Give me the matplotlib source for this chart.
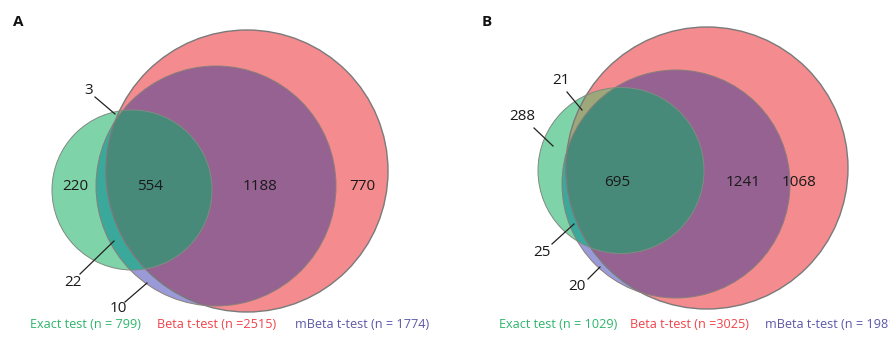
import numpy as np
import matplotlib
matplotlib.use("Agg")
import matplotlib.pyplot as plt
from matplotlib.patches import Circle, Polygon

plt.rcParams['font.family'] = ['Open Sans', 'DejaVu Sans']

# ---- data ----
panels = ["A", "B"]
tests = ["Exact test", "Beta t-test", "mBeta t-test"]
totals_A = [799, 2515, 1774]
totals_B = [1029, 3025, 1981]
# region counts
regions_A = {"exact_only": 220, "triple": 554, "beta_mbeta": 1188, "beta_only": 770,
             "exact_beta": 3, "exact_mbeta": 22, "mbeta_only": 10}
regions_B = {"exact_only": 288, "triple": 695, "beta_mbeta": 1241, "beta_only": 1068,
             "exact_beta": 21, "exact_mbeta": 25, "mbeta_only": 20}

# ---- layout (pixel coordinates, y downward) ----
geom = {
    "A": {"exact": (132, 190, 80), "beta": (247, 171, 141), "mbeta": (216, 186, 120)},
    "B": {"exact": (621, 170.5, 83), "beta": (707, 168, 141), "mbeta": (676, 184, 114)},
}
label_pos = {
    "A": {"exact_only": (75, 187), "triple": (150, 187), "beta_mbeta": (260, 187), "beta_only": (362, 187)},
    "B": {"triple": (617, 182), "beta_mbeta": (743, 182), "beta_only": (799, 182)},
}
callouts = {
    "A": {"exact_beta": ((89, 90), (95, 97), (115, 114)),
          "exact_mbeta": ((73, 283), (80, 274), (114, 241)),
          "mbeta_only": ((118, 308), (125, 302), (147, 283))},
    "B": {"exact_beta": ((561, 81), (567, 92), (582, 110)),
          "exact_only": ((522, 117), (534, 128), (553, 146)),
          "exact_mbeta": ((542, 253), (552, 244), (574, 224)),
          "mbeta_only": ((577, 287), (588, 279), (600, 267))},
}
legend_x = {"A": [30, 157, 295], "B": [499, 630, 765]}
panel_label_pos = {"A": (18, 22), "B": (487, 22)}

C_MINT = "#7FD3A9"
C_PINK = "#F48B8F"
C_PURPLE = "#956292"
C_LAV = "#9A9AD8"
C_OLIVE = "#9DA77A"
C_TEAL = "#3AA89A"
C_DARK = "#478A79"
EDGE = "#7a7a7a"
TXT_COLORS = ["#2DB56A", "#F0434A", "#5B58A8"]


def circle_poly(cx, cy, r, n=400):
    t = np.linspace(0, 2 * np.pi, n, endpoint=False)
    return np.column_stack([cx + r * np.cos(t), cy + r * np.sin(t)])


def clip_convex(subject, clipper):
    # Sutherland-Hodgman clipping of polygon by convex polygon
    def inside(p, a, b, s):
        return s * ((b[0] - a[0]) * (p[1] - a[1]) - (b[1] - a[1]) * (p[0] - a[0])) >= 0

    def inter(p1, p2, a, b):
        x1, y1 = p1; x2, y2 = p2; x3, y3 = a; x4, y4 = b
        den = (x1 - x2) * (y3 - y4) - (y1 - y2) * (x3 - x4)
        t = ((x1 - x3) * (y3 - y4) - (y1 - y3) * (x3 - x4)) / den
        return (x1 + t * (x2 - x1), y1 + t * (y2 - y1))

    area = 0.5 * np.sum(clipper[:, 0] * np.roll(clipper[:, 1], -1) - np.roll(clipper[:, 0], -1) * clipper[:, 1])
    s = 1 if area > 0 else -1
    out = [tuple(p) for p in subject]
    n = len(clipper)
    for i in range(n):
        a = clipper[i]; b = clipper[(i + 1) % n]
        inp = out; out = []
        if not inp:
            break
        prev = inp[-1]
        for cur in inp:
            if inside(cur, a, b, s):
                if not inside(prev, a, b, s):
                    out.append(inter(prev, cur, a, b))
                out.append(cur)
            elif inside(prev, a, b, s):
                out.append(inter(prev, cur, a, b))
            prev = cur
    return np.array(out)


fig = plt.figure(figsize=(8.9, 3.42), dpi=100)
ax = fig.add_axes([0, 0, 1, 1])
ax.set_xlim(0, 890)
ax.set_ylim(342, 0)
ax.axis("off")

for key, totals, regions in (("A", totals_A, regions_A), ("B", totals_B, regions_B)):
    g = geom[key]
    ex, be, mb = g["exact"], g["beta"], g["mbeta"]
    beta_circ = Circle(be[:2], be[2], transform=ax.transData)
    mb_circ = Circle(mb[:2], mb[2], transform=ax.transData)

    ax.add_patch(Circle(mb[:2], mb[2], fc=C_LAV, ec="none", zorder=1))
    ax.add_patch(Circle(be[:2], be[2], fc=C_PINK, ec="none", zorder=2))
    p = ax.add_patch(Circle(mb[:2], mb[2], fc=C_PURPLE, ec="none", zorder=3))
    p.set_clip_path(beta_circ)
    ax.add_patch(Circle(ex[:2], ex[2], fc=C_MINT, ec="none", zorder=4))
    p = ax.add_patch(Circle(ex[:2], ex[2], fc=C_OLIVE, ec="none", zorder=5))
    p.set_clip_path(beta_circ)
    p = ax.add_patch(Circle(ex[:2], ex[2], fc=C_TEAL, ec="none", zorder=6))
    p.set_clip_path(mb_circ)
    tri = clip_convex(circle_poly(*ex), circle_poly(*mb))
    p = ax.add_patch(Polygon(tri, closed=True, fc=C_DARK, ec="none", zorder=7))
    p.set_clip_path(beta_circ)
    # outlines
    ax.add_patch(Circle(be[:2], be[2], fc="none", ec=EDGE, lw=1.0, zorder=8))
    ax.add_patch(Circle(mb[:2], mb[2], fc="none", ec="#8a7f78", lw=0.7, zorder=8))
    ax.add_patch(Circle(ex[:2], ex[2], fc="none", ec="#7f8a80", lw=0.7, zorder=8))

    for reg, (x, y) in label_pos[key].items():
        ax.text(x, y, str(regions[reg]), fontsize=11, ha="center", va="center",
                color="#1a1a1a", zorder=10)
    for reg, (tp, l0, l1) in callouts[key].items():
        ax.text(tp[0], tp[1], str(regions[reg]), fontsize=11, ha="center", va="center",
                color="#1a1a1a", zorder=10)
        ax.plot([l0[0], l1[0]], [l0[1], l1[1]], color="#222222", lw=0.9, zorder=10)

    for i, t in enumerate(tests):
        sep = " = " if i != 1 else " ="
        ax.text(legend_x[key][i], 324, f"{t} (n{sep}{totals[i]})", fontsize=9.1,
                ha="left", va="center", color=TXT_COLORS[i], zorder=10)

    px, py = panel_label_pos[key]
    ax.text(px, py, key, fontsize=11, fontweight="bold", ha="center", va="center", color="#111111")

fig.savefig("out.png", dpi=100)
